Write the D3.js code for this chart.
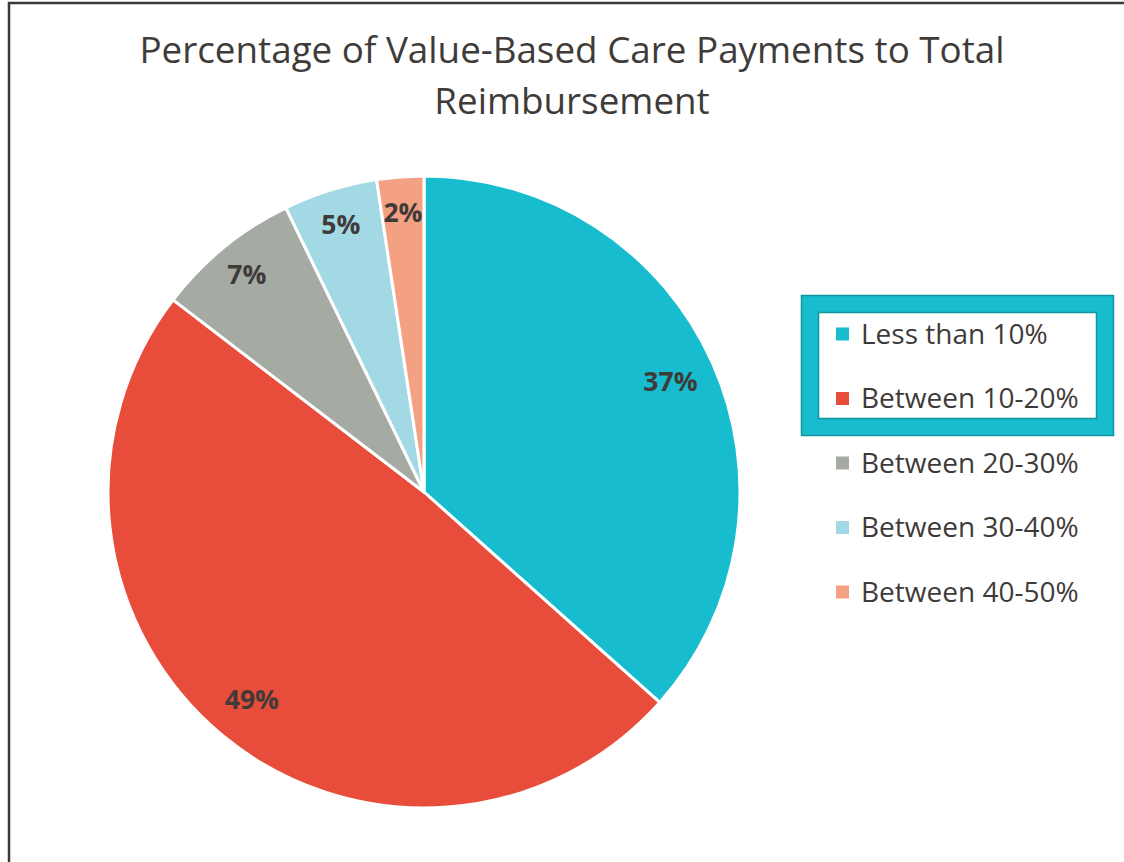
<!DOCTYPE html>
<html>
<head>
<meta charset="utf-8">
<script src="https://cdn.jsdelivr.net/npm/d3@7"></script>
<style>
  html, body { margin: 0; padding: 0; background: #fff; }
  svg { display: block; font-family: "Open Sans", sans-serif; }
</style>
</head>
<body>
<svg id="chart" width="1124" height="862"></svg>
<script>
// dati
const categories = ["Less than 10%", "Between 10-20%", "Between 20-30%", "Between 30-40%", "Between 40-50%"];
const values = [36.6, 48.8, 7.4, 4.8, 2.4];
const labels = ["37%", "49%", "7%", "5%", "2%"];
const colors = ["#17bccf", "#e84c3a", "#a5aaa3", "#a3d9e4", "#f4a183"];
const titleLines = ["Percentage of Value-Based Care Payments to Total", "Reimbursement"];

const svg = d3.select("#chart");
const W = 1124, H = 862;
const textColor = "#3f3b39";

// bordo esterno (tagliato a destra e in basso)
svg.append("rect")
  .attr("x", 9).attr("y", 3)
  .attr("width", W + 20).attr("height", H + 20)
  .attr("fill", "#fff")
  .attr("stroke", "#3d3835")
  .attr("stroke-width", 2.5);

// titolo
svg.append("text")
  .attr("text-anchor", "middle")
  .attr("fill", textColor)
  .attr("font-size", 36.8)
  .selectAll("tspan")
  .data(titleLines)
  .join("tspan")
  .attr("x", 572)
  .attr("y", (d, i) => 63 + i * 51)
  .text((d) => d);

// torta
const cx = 424, cy = 492, R = 316;
const g = svg.append("g").attr("transform", `translate(${cx},${cy})`);

const pie = d3.pie().sort(null).value((d) => d);
const arcs = pie(values);
const arc = d3.arc().innerRadius(0).outerRadius(R);
// etichette: le fette grandi un po' più verso il centro
const labelPos = (d) => {
  const r = d.value > 20 ? 270 : 280;
  return d3.arc().innerRadius(r).outerRadius(r).centroid(d);
};

g.selectAll("path.slice")
  .data(arcs)
  .join("path")
  .attr("class", "slice")
  .attr("d", arc)
  .attr("fill", (d, i) => colors[i])
  .attr("stroke", "#fff")
  .attr("stroke-width", 3)
  .attr("stroke-linejoin", "round");

g.selectAll("text.lbl")
  .data(arcs)
  .join("text")
  .attr("class", "lbl")
  .attr("transform", (d) => `translate(${labelPos(d)})`)
  .attr("text-anchor", "middle")
  .attr("dy", "0.35em")
  .attr("font-size", 26.5)
  .attr("font-weight", "bold")
  .attr("fill", textColor)
  .text((d, i) => labels[i]);

// legenda
const legX = 836, legY0 = 334, legStep = 64.5;

// riquadro di selezione attorno alle prime due voci
svg.append("rect")
  .attr("x", 810).attr("y", 304)
  .attr("width", 295).attr("height", 123)
  .attr("fill", "none")
  .attr("stroke", "#17bccf")
  .attr("stroke-width", 17);
svg.append("rect")
  .attr("x", 801.5).attr("y", 295.5)
  .attr("width", 312).attr("height", 140)
  .attr("fill", "none")
  .attr("stroke", "#12959f")
  .attr("stroke-width", 1.5);
svg.append("rect")
  .attr("x", 818.5).attr("y", 312.5)
  .attr("width", 278).attr("height", 106)
  .attr("fill", "none")
  .attr("stroke", "#12959f")
  .attr("stroke-width", 1.5);

const leg = svg.append("g")
  .selectAll("g")
  .data(categories)
  .join("g")
  .attr("transform", (d, i) => `translate(${legX},${legY0 + i * legStep})`);

leg.append("rect")
  .attr("x", 0).attr("y", -6.5)
  .attr("width", 13).attr("height", 13)
  .attr("fill", (d, i) => colors[i]);

leg.append("text")
  .attr("x", 25)
  .attr("dy", "0.35em")
  .attr("font-size", 28)
  .attr("fill", textColor)
  .text((d) => d);
</script>
</body>
</html>
